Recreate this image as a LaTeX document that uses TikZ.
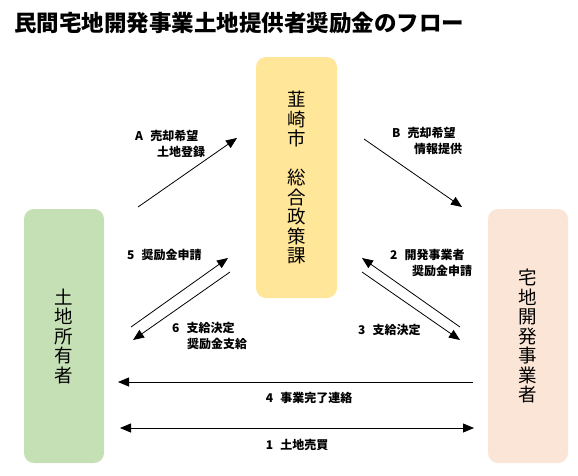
\documentclass[tikz,border=0pt]{standalone}
\usepackage{fontspec}
\setmainfont{Noto Sans CJK JP}
\usetikzlibrary{arrows.meta,positioning}
\definecolor{ownergreen}{HTML}{C5E0B4}
\definecolor{cityyellow}{HTML}{FFE699}
\definecolor{devpeach}{HTML}{FBE5D6}
\tikzset{
  party/.style={rounded corners=10pt, inner sep=0pt, align=center,
    font=\fontsize{18.5}{19.5}\selectfont, minimum width=80pt},
  flow/.style={-{Triangle[length=11pt,width=9pt]}, line width=0.8pt},
  both/.style={{Triangle[length=11pt,width=9pt]}-{Triangle[length=11pt,width=9pt]}, line width=0.8pt},
  lbl/.style={font=\bfseries\fontsize{12}{16}\selectfont, align=left, inner sep=0pt, anchor=north west},
}

\begin{document}
\begin{tikzpicture}[x=1pt,y=-1pt]
  \useasboundingbox (0,0) rectangle (578,475);

  % Title
  \node[anchor=west, inner sep=0pt, font=\bfseries\fontsize{22.5}{26}\selectfont] (title) at (14,23.5)
    {民間宅地開発事業土地提供者奨励金のフロー};

  % Parties
  \node[party, fill=ownergreen, minimum height=254pt] (owner) at (64,336)
    {土\\地\\所\\有\\者};
  \node[party, fill=cityyellow, minimum width=81pt, minimum height=241pt] (city) at (296.5,177.5)
    {韮\\崎\\市\\[19.5pt]総\\合\\政\\策\\課};
  \node[party, fill=devpeach, minimum height=254pt] (dev) at (528,336)
    {宅\\地\\開\\発\\事\\業\\者};

  % Arrow ends
  \coordinate (aS) at (138,207);  \coordinate (aE) at (237,138);
  \coordinate (bS) at (364,139);  \coordinate (bE) at (462,207);
  \coordinate (fiveS) at (131,327); \coordinate (fiveE) at (228,258);
  \coordinate (sixS) at (230,272);  \coordinate (sixE) at (133,340);
  \coordinate (twoS) at (460,327);  \coordinate (twoE) at (362,258);
  \coordinate (threeS) at (362,272); \coordinate (threeE) at (460,340);
  \coordinate (fourS) at (473,382); \coordinate (fourE) at (118,382);
  \coordinate (oneS) at (120,428);  \coordinate (oneE) at (474,428);

  % Flows
  \draw[flow] (aS) -- (aE);
  \draw[flow] (bS) -- (bE);
  \draw[flow] (fiveS) -- (fiveE);
  \draw[flow] (sixS) -- (sixE);
  \draw[flow] (twoS) -- (twoE);
  \draw[flow] (threeS) -- (threeE);
  \draw[flow] (fourS) -- (fourE);
  \draw[both] (oneS) -- (oneE);

  % Labels
  \node[lbl] (aLbl) at (135,130) {A\hspace{0.6em}売却希望\\\hspace*{22pt}土地登録};
  \node[lbl] (bLbl) at (392,127) {B\hspace{0.6em}売却希望\\\hspace*{22pt}情報提供};
  \node[lbl] (fiveLbl) at (127,249) {5\hspace{0.6em}奨励金申請};
  \node[lbl] (sixLbl) at (172,322) {6\hspace{0.6em}支給決定\\\hspace*{15pt}奨励金支給};
  \node[lbl] (twoLbl) at (390,249) {2\hspace{0.6em}開発事業者\\\hspace*{22pt}奨励金申請};
  \node[lbl] (threeLbl) at (358,324) {3\hspace{0.6em}支給決定};
  \node[lbl, anchor=center] (fourLbl) at (309,398) {4\hspace{0.6em}事業完了連絡};
  \node[lbl, anchor=center] (oneLbl) at (297,445) {1\hspace{0.6em}土地売買};
\end{tikzpicture}
\end{document}
